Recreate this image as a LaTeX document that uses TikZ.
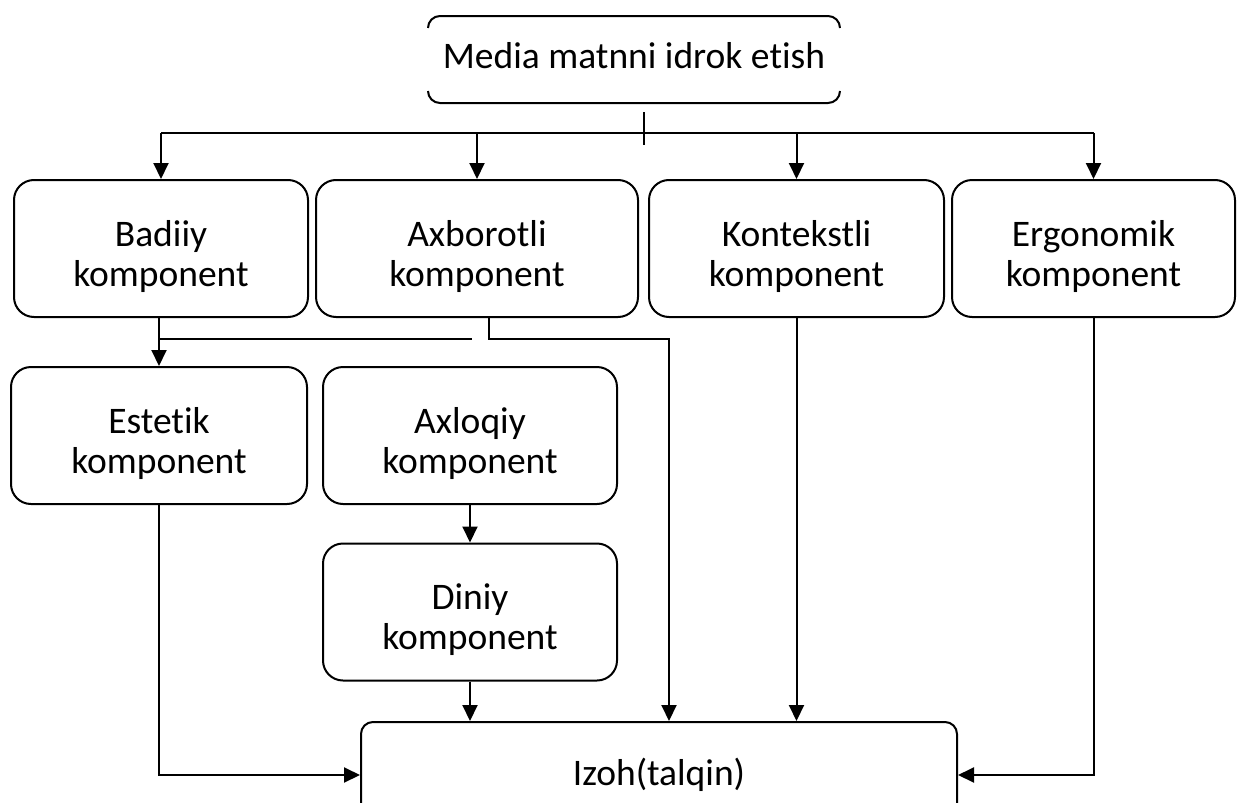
\documentclass[tikz,border=0pt]{standalone}
\usepackage{fontspec}
\setmainfont[Ligatures=NoCommon]{Carlito}
\usetikzlibrary{arrows.meta,positioning,calc}

\begin{document}
\begin{tikzpicture}[x=1pt, y=-1pt, line width=2pt,
    font=\fontsize{37.5}{40}\selectfont,
    box/.style={draw, rounded corners=20pt, align=center, text height=80pt, text depth=5pt, minimum width=#1, minimum height=137pt, inner sep=0pt},
    arr/.style={-{Triangle[length=16pt,width=15pt]}}]
            \useasboundingbox (0,0) rectangle (1237,803);

            % Top
            \node[minimum width=410pt, minimum height=85pt, text height=26pt, text depth=9pt] (media) at (634,59.5) {Media matnni idrok etish};
            \draw[rounded corners=12pt] ([yshift=-12pt]media.north west) -- (media.north west) -- (media.north east) -- ([yshift=-12pt]media.north east);
            \draw[rounded corners=12pt] ([yshift=12pt]media.south west) -- (media.south west) -- (media.south east) -- ([yshift=12pt]media.south east);

            % First row
            \node[box=294pt] (badiiy) at (161,248.5) {Badiiy\\komponent};
            \node[box=322pt] (axborot) at (477,248.5) {Axborotli\\komponent};
            \node[box=295pt] (kontekst) at (796.5,248.5) {Kontekstli\\komponent};
            \node[box=283pt] (ergonomik) at (1093.5,248.5) {Ergonomik\\komponent};

            % Second row
            \node[box=296pt] (estetik) at (159,435.5) {Estetik\\komponent};
            \node[box=294pt] (axloqiy) at (470,435.5) {Axloqiy\\komponent};
            \node[box=294pt] (diniy) at (470,612) {Diniy\\komponent};

            % Result
            \node[draw, rounded corners=12pt, minimum width=596pt, minimum height=106pt] (izoh) at (659,775) {Izoh(talqin)};

            % Bus
            \coordinate (bus) at (644,133);
            \draw ([yshift=21pt]bus) -- ([yshift=-12pt]bus);
            \draw (bus -| badiiy) -- (bus -| ergonomik);
            \draw[arr] (bus -| badiiy) -- (badiiy);
            \draw[arr] (bus -| axborot) -- (axborot);
            \draw[arr] (bus -| kontekst) -- (kontekst);
            \draw[arr] (bus -| ergonomik) -- (ergonomik);

            % Branches
            \coordinate (split) at (472,339);
            \coordinate (elbow) at (669,339);
            \draw[arr] (estetik |- badiiy.south) -- (estetik);
            \draw (estetik |- split) -- (split);
            \draw[arr] ([xshift=12pt]axborot.south) |- (elbow) -- (elbow |- izoh.north);
            \draw[arr] (axloqiy) -- (diniy);
            \draw[arr] (diniy.south) -- (diniy.south |- izoh.north);
            \draw[arr] (kontekst.south) -- (kontekst.south |- izoh.north);
            \draw[arr] (estetik.south) |- (izoh.west);
            \draw[arr] (ergonomik.south) |- (izoh.east);
        \end{tikzpicture}
\end{document}
